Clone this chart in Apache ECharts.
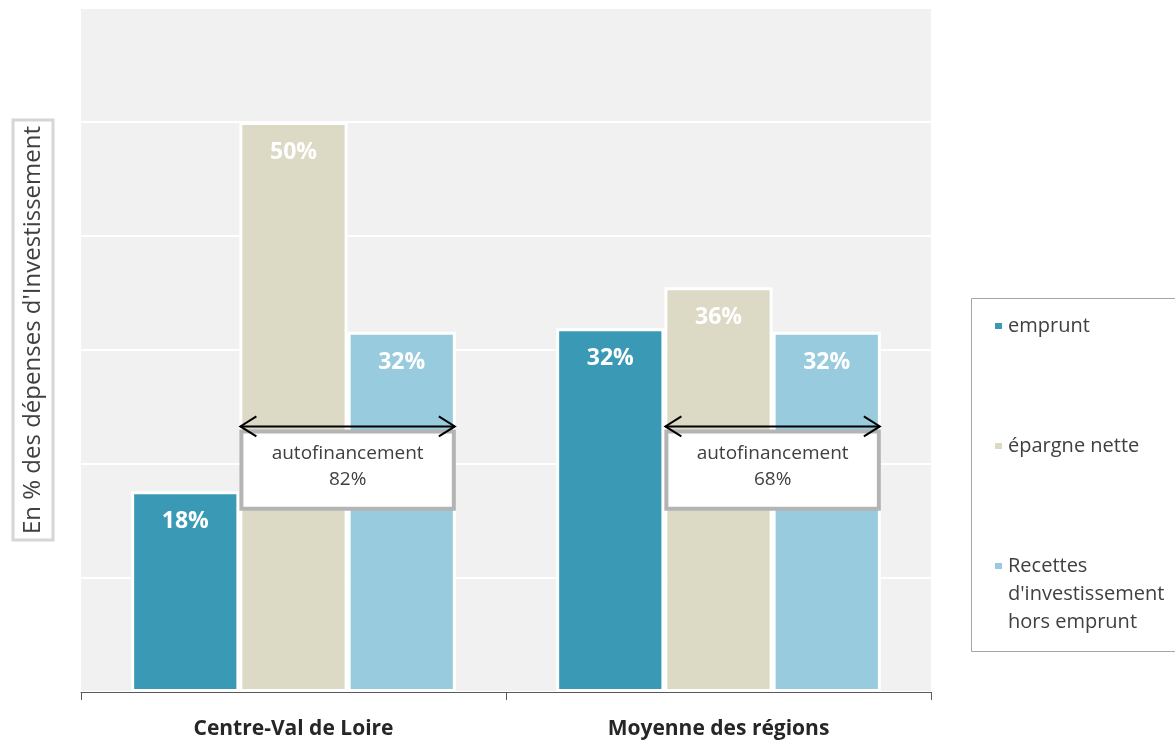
<!DOCTYPE html>
<html>
<head>
<meta charset="utf-8">
<script src="https://cdn.jsdelivr.net/npm/echarts@6/dist/echarts.min.js"></script>
<style>
  html, body { margin: 0; padding: 0; background: #fff; }
  #chart { width: 1175px; height: 744px; }
</style>
</head>
<body>
<div id="chart"></div>
<script>
// data (% of investment spending)
var categories = ['Centre-Val de Loire', 'Moyenne des régions'];
var seriesNames = ['emprunt', 'épargne nette', "Recettes\nd'investissement\nhors emprunt"];
var emprunt = [17.6, 31.9];
var epargneNette = [50, 35.5];
var recettes = [31.6, 31.6];
var autofinancement = [82, 68];

var colors = ['#3a9ab6', '#dcd9c4', '#97cbdd'];
var FONT = '"Open Sans"';
var CAT_GAP = 0.236;      // barCategoryGap
var ARROW_LEVEL = 23.3;   // y value of the double arrow
var BOX_BOTTOM = 15.9;    // y value of the bottom of the annotation box

var chart = echarts.init(document.getElementById('chart'));

function barSeries(name, values, color) {
    return {
        name: name,
        type: 'bar',
        data: values,
        barGap: '0%',
        barCategoryGap: (CAT_GAP * 100) + '%',
        itemStyle: { color: color, borderColor: '#fff', borderWidth: 3 },
        label: {
            show: true,
            position: 'insideTop',
            distance: 19,
            color: '#fff',
            fontWeight: 'bold',
            fontSize: 23,
            fontFamily: FONT,
            formatter: function (p) { return Math.round(p.value) + '%'; }
        }
    };
}

function renderAnnotation(params, api) {
    var idx = api.value(0);
    var center = api.coord([idx, 0])[0];
    var band = api.size([1, 0])[0];
    var w = band * (1 - CAT_GAP) / 3;
    var x0 = center - w / 2;
    var x1 = center + 1.5 * w;
    var yA = api.coord([idx, ARROW_LEVEL])[1];
    var yB = api.coord([idx, BOX_BOTTOM])[1];
    var stroke = { stroke: '#000', lineWidth: 2, fill: null };
    return {
        type: 'group',
        children: [
            { type: 'rect', shape: { x: x0 + 2, y: yA + 5, width: x1 - x0 - 4, height: yB - yA - 7 },
              style: { fill: '#fff', stroke: '#b4b4b4', lineWidth: 4 } },
            { type: 'line', shape: { x1: x0 + 1, y1: yA, x2: x1 - 1, y2: yA }, style: stroke },
            { type: 'polyline', shape: { points: [[x0 + 17, yA - 10], [x0 + 1, yA], [x0 + 17, yA + 10]] }, style: stroke },
            { type: 'polyline', shape: { points: [[x1 - 17, yA - 10], [x1 - 1, yA], [x1 - 17, yA + 10]] }, style: stroke },
            { type: 'text', style: {
                text: 'autofinancement\n' + api.value(1) + '%',
                x: (x0 + x1) / 2, y: yA + 40,
                align: 'center', verticalAlign: 'middle',
                fontSize: 19, fontFamily: FONT, fill: '#404040', lineHeight: 26
            } }
        ]
    };
}

// pad every legend label to 5 lines so the icon sits on the first line of text
function legendText(name) {
    var n = name.split('\n').length;
    var tail = '';
    for (var i = 0; i < 2 - (n - 1); i++) tail += '\n';
    return '\n\n' + name + tail;
}

var option = {
    animation: false,
    grid: {
        left: 81, right: 244, top: 8, bottom: 52,
        show: true, backgroundColor: '#f1f1f1', borderWidth: 0
    },
    xAxis: {
        type: 'category',
        data: categories,
        axisLine: { lineStyle: { color: '#595959', width: 1 } },
        axisTick: { show: true, length: 8, lineStyle: { color: '#595959' } },
        axisLabel: { margin: 27, fontSize: 21, fontWeight: 'bold', color: '#262626', fontFamily: FONT }
    },
    yAxis: {
        type: 'value',
        min: 0, max: 60, interval: 10,
        axisLabel: { show: false },
        axisLine: { show: false },
        axisTick: { show: false },
        splitLine: { lineStyle: { color: '#fff', width: 2 } }
    },
    legend: {
        orient: 'vertical',
        left: 993, top: 256,
        padding: 0,
        itemGap: -20,
        itemWidth: 9, itemHeight: 8,
        icon: 'rect',
        selectedMode: false,
        data: seriesNames,
        formatter: legendText,
        textStyle: { fontSize: 20, fontFamily: FONT, color: '#404040', lineHeight: 28 }
    },
    graphic: [
        { type: 'rect', shape: { x: 971.5, y: 298.5, width: 240, height: 353 },
          style: { fill: null, stroke: '#a6a6a6', lineWidth: 1 } },
        { type: 'text', x: 33, y: 330, rotation: Math.PI / 2,
          style: {
              text: "En % des dépenses d'Investissement",
              align: 'center', verticalAlign: 'middle',
              fontSize: 24, fontFamily: FONT, fill: '#404040', lineHeight: 26,
              padding: [7, 6, 7, 6], borderColor: '#d6d6d6', borderWidth: 3
          } }
    ],
    series: [
        barSeries(seriesNames[0], emprunt, colors[0]),
        barSeries(seriesNames[1], epargneNette, colors[1]),
        barSeries(seriesNames[2], recettes, colors[2]),
        {
            type: 'custom',
            name: 'autofinancement',
            silent: true,
            z: 10,
            data: categories.map(function (c, i) { return [i, autofinancement[i]]; }),
            renderItem: renderAnnotation
        }
    ]
};

chart.setOption(option);
</script>
</body>
</html>
